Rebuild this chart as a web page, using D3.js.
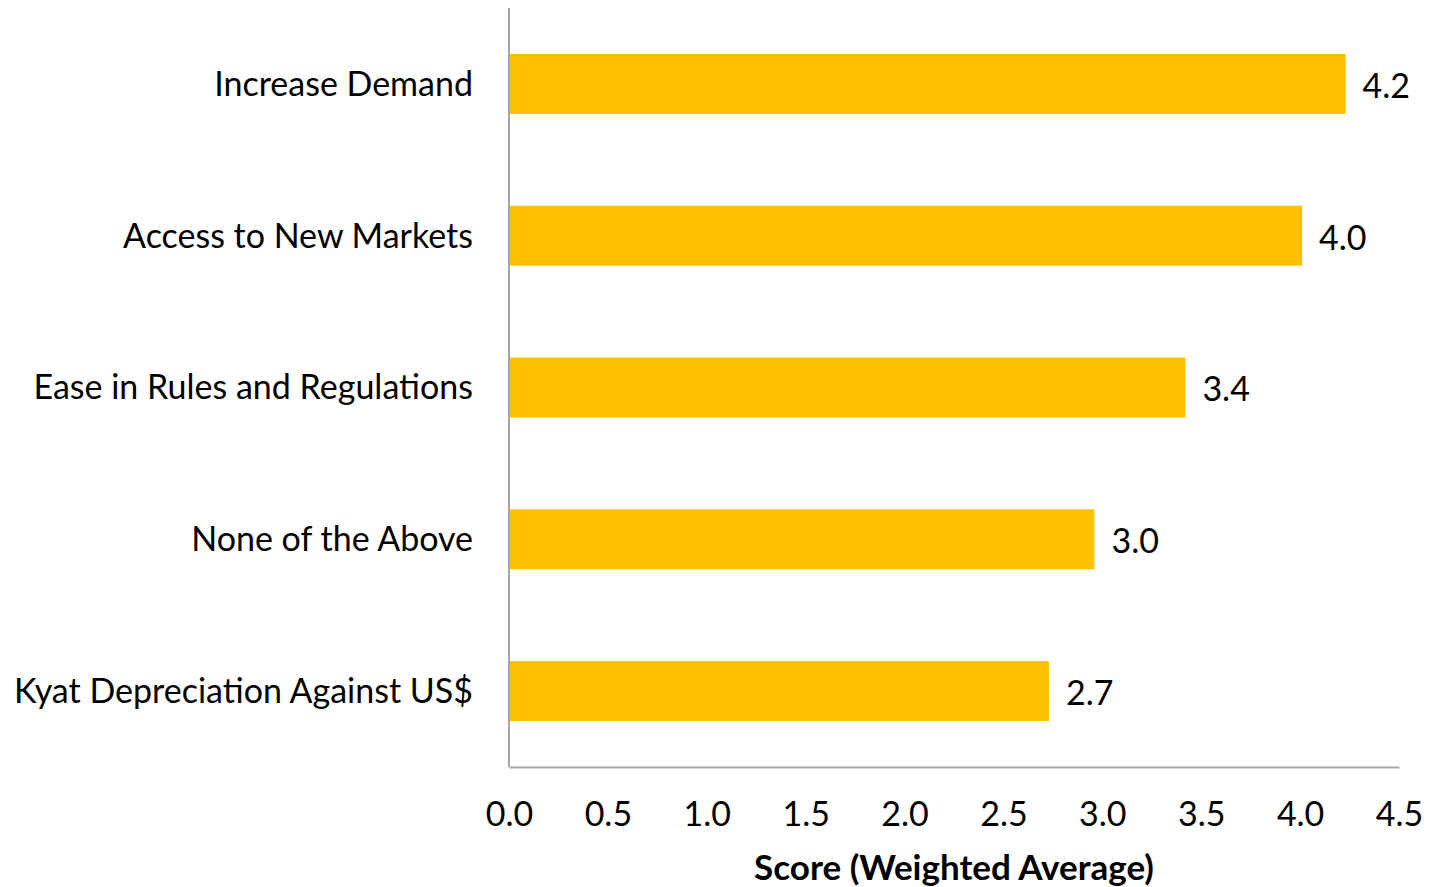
<!DOCTYPE html>
<html>
<head>
<meta charset="utf-8">
<script src="https://cdn.jsdelivr.net/npm/d3@7"></script>
<style>
body { margin: 0; background: #fff; }
text { font-family: Lato, "Open Sans", sans-serif; fill: #000; }
</style>
</head>
<body>
<div id="chart"></div>
<script>
var categories = ['Increase Demand', 'Access to New Markets', 'Ease in Rules and Regulations', 'None of the Above', 'Kyat Depreciation Against US$'];
var scores = [4.23, 4.01, 3.42, 2.96, 2.73];
var x_ticks = [0, 0.5, 1, 1.5, 2, 2.5, 3, 3.5, 4, 4.5];
var x_title = 'Score (Weighted Average)';

var width = 1431, height = 887;
var margin = {left: 509, right: 32, top: 8, bottom: 120};
var font_size = 34;

var svg = d3.select('#chart').append('svg').attr('width', width).attr('height', height);

var x_scale = d3.scaleLinear().domain([0, 4.5]).range([margin.left, width - margin.right]);
var y_scale = d3.scaleBand().domain(categories).range([margin.top, height - margin.bottom]).paddingInner(0.605).paddingOuter(0.3025);

// bars
svg.append('g').selectAll('rect').data(categories).join('rect')
    .attr('x', x_scale(0))
    .attr('y', d => y_scale(d))
    .attr('width', (d, i) => x_scale(scores[i]) - x_scale(0))
    .attr('height', y_scale.bandwidth())
    .attr('fill', '#FFC000');

// value labels
svg.append('g').selectAll('text').data(categories).join('text')
    .attr('x', (d, i) => x_scale(scores[i]) + 17)
    .attr('y', d => y_scale(d) + y_scale.bandwidth() / 2 + 2)
    .attr('dy', '0.35em')
    .attr('font-size', font_size)
    .text((d, i) => scores[i].toFixed(1));

// category labels
svg.append('g').selectAll('text').data(categories).join('text')
    .attr('x', margin.left - 36)
    .attr('y', d => y_scale(d) + y_scale.bandwidth() / 2)
    .attr('dy', '0.35em')
    .attr('text-anchor', 'end')
    .attr('font-size', font_size)
    .text(d => d);

// axes (no tick marks)
var x_axis = svg.append('g').attr('transform', 'translate(0,' + (height - margin.bottom) + ')')
    .call(d3.axisBottom(x_scale).tickValues(x_ticks).tickFormat(d3.format('.1f')).tickSize(0).tickPadding(35));
x_axis.select('.domain').attr('stroke', '#a6a6a6').attr('stroke-width', 2);
x_axis.selectAll('text').attr('font-size', font_size).attr('font-family', 'Lato, "Open Sans", sans-serif').attr('fill', '#000');

svg.append('line')
    .attr('x1', x_scale(0)).attr('x2', x_scale(0))
    .attr('y1', margin.top).attr('y2', height - margin.bottom)
    .attr('stroke', '#a6a6a6').attr('stroke-width', 2);

svg.append('text')
    .attr('x', (x_scale(0) + x_scale(4.5)) / 2)
    .attr('y', 868)
    .attr('dy', '0.35em')
    .attr('text-anchor', 'middle')
    .attr('font-size', 35)
    .attr('font-weight', 'bold')
    .text(x_title);
</script>
</body>
</html>
